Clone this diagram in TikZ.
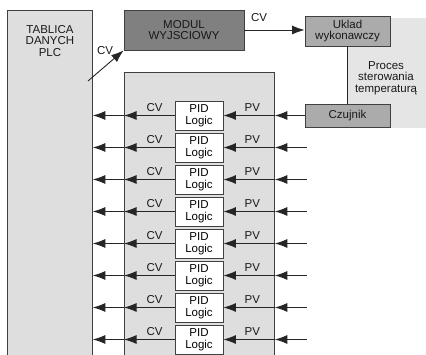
\documentclass[tikz,border=0pt]{standalone}
\usepackage{fontspec}
\setmainfont{Liberation Sans}
\usetikzlibrary{arrows.meta,calc}
\begin{document}
\begin{tikzpicture}[x=1pt,y=-1pt,
  frame/.style={draw=black!75, line width=0.8pt},
  lightbox/.style={frame, fill=black!13},
  darkbox/.style={frame, fill=black!50},
  midbox/.style={frame, fill=black!33},
  pidbox/.style={frame, fill=white, minimum width=48pt, minimum height=29pt, inner sep=0pt, align=center, font=\fontsize{11.5}{12}\selectfont},
  txt/.style={font=\fontsize{11.5}{11.5}\selectfont, inner sep=0pt, align=center, text=black!90},
  conn/.style={draw=black!85, line width=0.9pt},
  arr/.style={conn, -{Latex[length=12.5pt,width=9pt]}}
]
\useasboundingbox (0,0) rectangle (426,355);
\clip (0,0) rectangle (426,355);
\fill[white] (0,0) rectangle (426,355);
% process background
\node[fill=black!10, minimum width=78pt, minimum height=110pt, anchor=north west, inner sep=0pt] (proc) at (348,18) {};
% boxes
\node[lightbox, minimum width=85pt, minimum height=360pt, anchor=north west, inner sep=0pt] (plc) at (7,10) {};
\node[txt] (plctext) at (50,41) {TABLICA\\DANYCH\\PLC};
\node[lightbox, minimum width=150pt, minimum height=300pt, anchor=north west, inner sep=0pt] (mid) at (124,72) {};
\node[darkbox, minimum width=120pt, minimum height=40pt, inner sep=0pt, txt] (modul) at (184,30) {MODUL\\WYJSCIOWY};
\node[midbox, minimum width=85pt, minimum height=30pt, inner sep=0pt, txt] (uklad) at (347.5,31) {Uklad\\wykonawczy};
\node[midbox, minimum width=85pt, minimum height=23pt, inner sep=0pt, txt] (czuj) at (347.5,115.5) {Czujnik};
\node[txt] (proctext) at (386,78) {Proces\\sterowania\\temperaturą};
\draw[conn] (uklad.south) -- (czuj.north);
% top connectors
\draw[arr] (modul.east) -- (modul.east -| uklad.west);
\node[txt] (cv0) at (259,18) {CV};
\coordinate (cvstart) at (88,81);
\draw[arr] (cvstart) -- (modul.south west);
\node[txt] (cv1) at (105,51) {CV};
% PID rows
\foreach \i in {1,...,8} {
  \node[pidbox] (pid\i) at (199,{115.5+32*(\i-1)}) {PID\\Logic};
  \draw[arr] (pid\i.west) -- (pid\i.west -| mid.west);
  \draw[arr] (pid\i.west -| mid.west) -- (pid\i.west -| plc.east);
  \draw[arr] (pid\i.east -| mid.east) -- (pid\i.east);
  \node[txt] (cvl\i) at ($(pid\i.west)+(-20,-8)$) {CV};
  \node[txt] (pvl\i) at ($(pid\i.east)+(29,-8)$) {PV};
}
\draw[arr] (czuj.west) -- (pid1.east -| mid.east);
\foreach \i in {2,...,8} {
  \coordinate (rin\i) at ($(pid\i.east -| czuj.west)+(2,0)$);
  \draw[arr] (rin\i) -- (pid\i.east -| mid.east);
}
\end{tikzpicture}
\end{document}
